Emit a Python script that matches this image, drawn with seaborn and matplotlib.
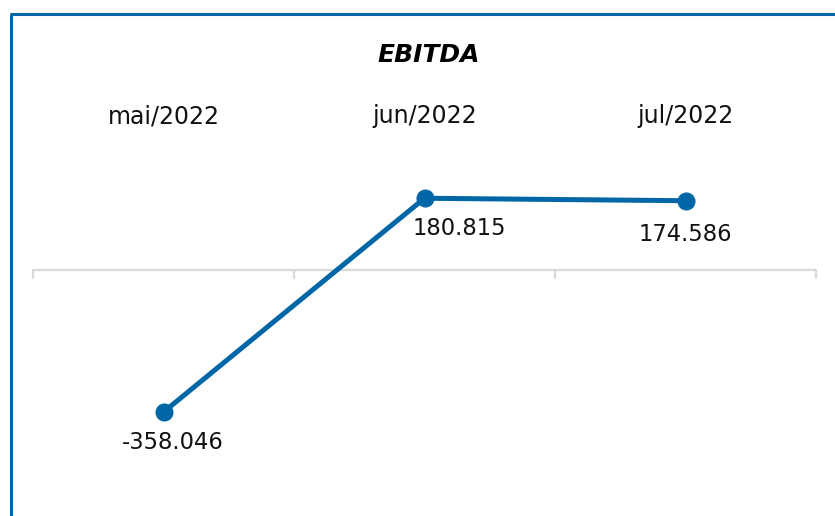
import matplotlib
matplotlib.use("Agg")
import matplotlib.pyplot as plt
import seaborn as sns
import pandas as pd
from matplotlib.lines import Line2D

months = ["mai/2022", "jun/2022", "jul/2022"]
ebitda = [-358046, 180815, 174586]
title = "EBITDA"

sns.set_theme(style="white")
plt.rcParams['font.family'] = ['DejaVu Sans']

W, H = 835, 516
fig = plt.figure(figsize=(W / 100, H / 100), dpi=100)
fig.patch.set_facecolor("white")

# axes spanning x 33..816 px, full height
ax = fig.add_axes([33 / W, 0, (816 - 33) / W, 1])
ax.set_facecolor("none")

df = pd.DataFrame({"x": [i + 0.5 for i in range(len(months))], "y": ebitda, "m": months})
blue = "#0066A6"
sns.lineplot(data=df, x="x", y="y", ax=ax, color=blue, linewidth=3.6,
             marker="o", markersize=13, markeredgewidth=0, legend=False)

scale = 2520.0  # value per pixel
ax.set_xlim(0, 3)
ax.set_ylim(-(H - 270) * scale, 270 * scale)
ax.axis("off")

# category axis at zero
gray = "#D9D9D9"
ax.axhline(0, color=gray, linewidth=1.6, zorder=0)
for xt in [0, 1, 2, 3]:
    ax.plot([xt, xt], [0, -8 * scale], color=gray, linewidth=1.6, zorder=0, clip_on=False)

# category labels at top
for i, m in enumerate(months):
    ax.text(i + 0.5, (270 - 116) * scale, m, ha="center", va="center",
            fontsize=17, color="#111111")

# data labels
offsets = [(7, -22), (25, -22), (0, -24)]
for i, v in enumerate(ebitda):
    lab = f"{v:,}".replace(",", ".")
    ax.annotate(lab, (i + 0.5, v), xytext=offsets[i], textcoords="offset points",
                ha="center", va="center", fontsize=16.3, color="#111111")

fig.text(429 / W, 1 - 55 / H, title, ha="center", va="center", fontsize=18,
         fontweight="bold", fontstyle="italic", color="black")

# border lines
fig.add_artist(Line2D([11 / W, 11 / W], [0, 1 - 14 / H], color=blue, linewidth=2.2,
                      solid_capstyle="butt", transform=fig.transFigure))
fig.add_artist(Line2D([10 / W, 1], [1 - 14 / H, 1 - 14 / H], color=blue, linewidth=2.2,
                      solid_capstyle="butt", transform=fig.transFigure))

fig.savefig("out.png", dpi=100)
